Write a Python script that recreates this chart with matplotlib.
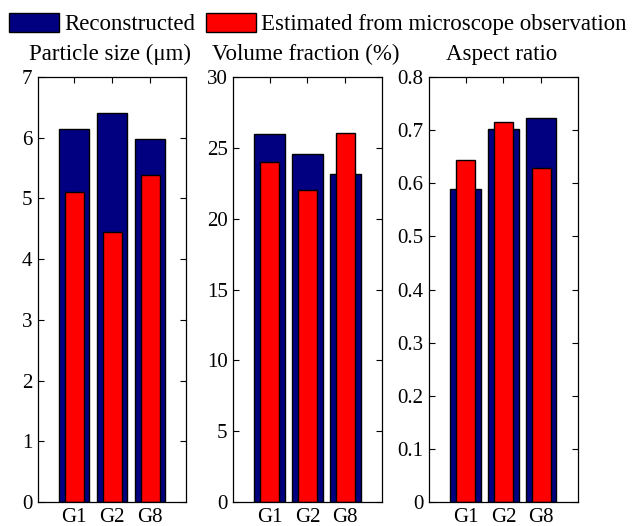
import numpy as np
import matplotlib.pyplot as plt
from matplotlib.ticker import FuncFormatter

# data
groups = ['G1', 'G2', 'G8']
titles = ['Particle size (\u03bcm)', 'Volume fraction (%)', 'Aspect ratio']

size_recon = [6.15, 6.40, 5.98]
size_micro = [5.11, 4.45, 5.38]
vf_recon = [26.0, 24.58, 23.16]
vf_micro = [24.0, 22.0, 26.07]
ar_recon = [0.589, 0.703, 0.723]
ar_micro = [0.644, 0.716, 0.629]

ymaxes = [7, 30, 0.8]
ysteps = [1, 5, 0.1]

plt.rcParams['font.family'] = ['Liberation Serif', 'DejaVu Serif']
plt.rcParams['font.size'] = 14

fig = plt.figure(figsize=(6.32, 5.26), dpi=100)

lefts = [0.060, 0.369, 0.679]
title_x = [110 / 632, 306 / 632, 502 / 632]
recon_all = [size_recon, vf_recon, ar_recon]
micro_all = [size_micro, vf_micro, ar_micro]

x = np.arange(1, len(groups) + 1)
for i in range(3):
    ax = fig.add_axes([lefts[i], 0.0456, 0.235, 0.808])
    b1 = ax.bar(x, recon_all[i], width=0.8, color='#000080', edgecolor='black', linewidth=1)
    b2 = ax.bar(x, micro_all[i], width=0.5, color='#ff0000', edgecolor='black', linewidth=1)
    ax.set_xlim(0.04, 3.96)
    ax.set_ylim(0, ymaxes[i])
    ax.set_yticks(np.arange(0, ymaxes[i] + ysteps[i] / 2, ysteps[i]))
    ax.yaxis.set_major_formatter(FuncFormatter(lambda v, p: '%g' % round(v, 3)))
    ax.set_xticks(x)
    ax.set_xticklabels(groups)
    ax.tick_params(direction='in', length=4, width=0.8, top=True, right=True, bottom=False,
                   labelsize=15, pad=4)
    for s in ax.spines.values():
        s.set_linewidth(0.9)
    fig.text(title_x[i], 0.897, titles[i], ha='center', va='center', fontsize=16.5)

fig.legend([b1, b2], ['Reconstructed', 'Estimated from microscope observation'],
           loc='upper left', bbox_to_anchor=(0.0, 0.993), ncol=2, frameon=False,
           handlelength=2.18, handleheight=0.92, handletextpad=0.22, columnspacing=0.48,
           borderaxespad=0.15, borderpad=0.25, prop={'size': 16.5})

fig.savefig('out.png', dpi=100)
